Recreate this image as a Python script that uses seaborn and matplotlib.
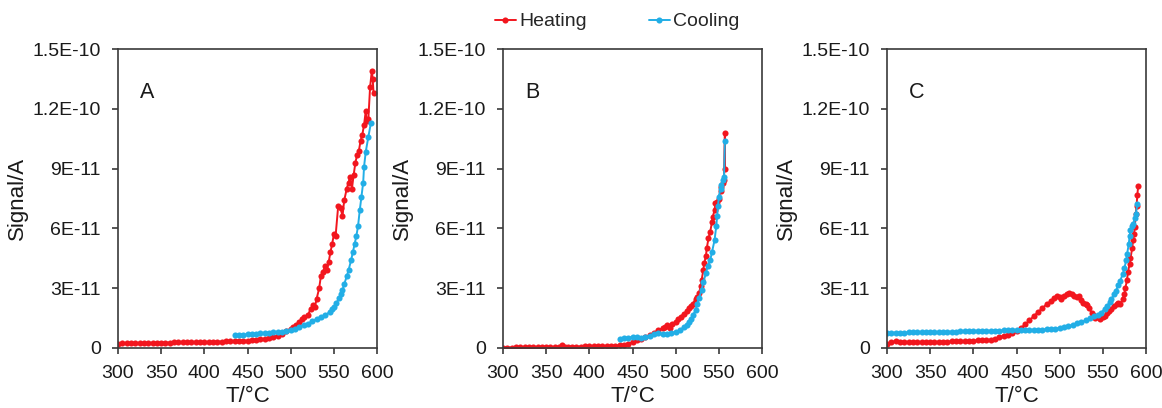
import numpy as np
import pandas as pd
import matplotlib
matplotlib.use("Agg")
import matplotlib.pyplot as plt
import seaborn as sns

# ---------------- data (signal in units of 1E-11 A) ----------------
heat_A_T = [300, 305, 310, 315, 320, 325, 330, 335, 340, 345, 350, 355, 360, 365, 370, 375, 380, 385, 390, 395,
            400, 405, 410, 415, 420, 425, 430, 435, 440, 445, 450, 455, 460, 465, 470, 475, 480, 485, 490, 495,
            500, 503, 506, 510, 513, 516, 520, 523, 526, 528, 530, 533, 535, 537, 540, 542, 544, 546, 548, 550,
            552, 555, 558, 560, 562, 565, 567, 569, 571, 573, 575, 577, 579, 581, 583, 585, 587, 588, 590, 592,
            594, 595, 596]
heat_A_S = [0.22, 0.23, 0.23, 0.24, 0.24, 0.25, 0.25, 0.25, 0.26, 0.26, 0.27, 0.27, 0.27, 0.28, 0.28, 0.28, 0.29, 0.29, 0.30, 0.30,
            0.30, 0.31, 0.31, 0.32, 0.32, 0.33, 0.33, 0.34, 0.35, 0.36, 0.37, 0.38, 0.40, 0.43, 0.46, 0.50, 0.55, 0.62, 0.72, 0.85,
            0.97, 1.05, 1.15, 1.30, 1.45, 1.55, 1.65, 1.95, 2.15, 2.05, 2.45, 3.00, 3.60, 3.80, 4.10, 3.90, 4.30, 4.80, 5.20, 5.70,
            5.60, 7.10, 7.00, 6.60, 7.40, 8.00, 8.30, 8.60, 8.00, 8.70, 9.30, 9.70, 9.90, 10.4, 10.7, 11.2, 11.9, 11.4, 11.5, 13.1,
            13.9, 13.5, 12.8]
cool_A_T = [435, 440, 445, 450, 455, 460, 465, 470, 475, 480, 485, 490, 495, 500, 505, 510, 515, 520, 525, 530,
            535, 540, 545, 548, 550, 553, 556, 558, 560, 562, 565, 567, 570, 572, 574, 576, 578, 580, 582, 584,
            585, 587, 590, 593]
cool_A_S = [0.64, 0.66, 0.67, 0.68, 0.70, 0.71, 0.73, 0.75, 0.77, 0.78, 0.80, 0.82, 0.86, 0.90, 0.97, 1.06, 1.14, 1.22, 1.33, 1.47,
            1.56, 1.64, 1.80, 1.95, 2.06, 2.25, 2.50, 2.70, 2.90, 3.20, 3.60, 3.90, 4.40, 4.80, 5.20, 5.60, 6.10, 6.90, 7.60, 8.30,
            9.10, 9.85, 10.6, 11.3]

heat_B_T = [300, 305, 310, 315, 320, 325, 330, 335, 340, 345, 350, 355, 360, 365, 368, 372, 375, 380, 385, 390,
            395, 400, 405, 410, 415, 420, 425, 430, 435, 440, 445, 450, 455, 460, 465, 470, 475, 480, 485, 488,
            490, 493, 496, 500, 503, 506, 510, 513, 516, 518, 520, 523, 525, 527, 529, 530, 532, 533, 535, 536,
            538, 540, 542, 543, 545, 546, 548, 550, 552, 553, 555, 556, 557, 557]
heat_B_S = [0.02, 0.02, 0.02, 0.03, 0.03, 0.03, 0.03, 0.04, 0.04, 0.05, 0.05, 0.05, 0.05, 0.06, 0.14, 0.06, 0.06, 0.07, 0.07, 0.07,
            0.08, 0.08, 0.08, 0.09, 0.09, 0.10, 0.11, 0.12, 0.14, 0.17, 0.22, 0.30, 0.38, 0.47, 0.56, 0.64, 0.76, 0.89, 1.00, 1.05,
            1.14, 1.00, 1.20, 1.31, 1.45, 1.58, 1.73, 1.85, 2.00, 2.10, 2.23, 2.45, 2.56, 2.75, 3.10, 3.40, 3.90, 4.24, 4.60, 5.00,
            5.50, 5.83, 6.30, 6.59, 6.90, 7.26, 7.30, 7.50, 7.90, 8.10, 8.30, 8.43, 10.8, 9.00]
cool_B_T = [435, 440, 445, 450, 455, 460, 465, 470, 475, 480, 485, 490, 495, 500, 505, 510, 513, 515, 518, 520,
            523, 525, 527, 530, 532, 535, 537, 540, 542, 545, 547, 548, 549, 550, 552, 553, 555, 556, 557]
cool_B_S = [0.47, 0.50, 0.52, 0.55, 0.55, 0.52, 0.55, 0.60, 0.72, 0.75, 0.72, 0.72, 0.75, 0.80, 0.90, 1.06, 1.15, 1.30, 1.45, 1.64,
            1.90, 2.23, 2.50, 2.90, 3.30, 3.74, 4.10, 4.40, 4.80, 5.40, 6.10, 6.60, 7.10, 7.60, 8.00, 8.20, 8.45, 8.60, 10.4]

heat_C_T = [300, 305, 310, 315, 320, 325, 330, 335, 340, 345, 350, 355, 360, 365, 370, 375, 380, 385, 390, 395,
            400, 405, 410, 415, 420, 425, 430, 435, 440, 445, 450, 455, 460, 465, 470, 475, 480, 485, 490, 494,
            497, 500, 502, 505, 508, 511, 514, 517, 520, 522, 525, 527, 530, 532, 534, 537, 539, 541, 544, 547,
            550, 552, 555, 557, 560, 563, 566, 568, 570, 573, 575, 576, 578, 579, 581, 582, 584, 585, 586, 587,
            588, 589, 590, 591]
heat_C_S = [0.20, 0.30, 0.34, 0.32, 0.32, 0.30, 0.29, 0.28, 0.29, 0.30, 0.30, 0.31, 0.31, 0.32, 0.32, 0.33, 0.33, 0.34, 0.35, 0.35,
            0.37, 0.38, 0.39, 0.40, 0.42, 0.47, 0.54, 0.60, 0.67, 0.75, 0.84, 1.00, 1.18, 1.38, 1.60, 1.80, 2.00, 2.20, 2.35, 2.50,
            2.60, 2.55, 2.45, 2.62, 2.70, 2.77, 2.70, 2.60, 2.55, 2.60, 2.40, 2.27, 2.20, 2.15, 2.00, 1.77, 1.65, 1.50, 1.55, 1.46,
            1.55, 1.60, 1.75, 1.85, 1.95, 2.10, 2.20, 2.27, 2.20, 2.44, 2.70, 3.00, 3.40, 3.80, 4.20, 4.50, 5.00, 5.40, 5.70, 6.05,
            6.70, 7.10, 7.70, 8.15]
cool_C_T = [300, 305, 310, 315, 320, 325, 330, 335, 340, 345, 350, 355, 360, 365, 370, 375, 380, 385, 390, 395,
            400, 405, 410, 415, 420, 425, 430, 435, 440, 445, 450, 455, 460, 465, 470, 475, 480, 485, 490, 495,
            500, 505, 510, 515, 520, 525, 530, 535, 540, 544, 548, 552, 555, 558, 560, 563, 565, 568, 570, 573,
            575, 577, 578, 580, 581, 582, 584, 585, 587, 588, 590]
cool_C_S = [0.76, 0.76, 0.77, 0.77, 0.77, 0.78, 0.78, 0.78, 0.79, 0.79, 0.80, 0.80, 0.80, 0.81, 0.81, 0.82, 0.82, 0.83, 0.83, 0.84,
            0.84, 0.85, 0.85, 0.86, 0.86, 0.87, 0.87, 0.88, 0.88, 0.89, 0.89, 0.90, 0.90, 0.91, 0.91, 0.92, 0.92, 0.93, 0.95, 0.97,
            1.00, 1.04, 1.09, 1.15, 1.23, 1.30, 1.38, 1.48, 1.60, 1.68, 1.77, 1.95, 2.10, 2.30, 2.44, 2.70, 2.86, 3.15, 3.36, 3.70,
            4.00, 4.40, 4.70, 5.20, 5.60, 5.90, 6.10, 6.20, 6.50, 6.70, 7.20]

panel_labels = ["A", "B", "C"]
series_names = ["Heating", "Cooling"]
x_ticks = [300, 350, 400, 450, 500, 550, 600]
y_ticks = [0, 3e-11, 6e-11, 9e-11, 1.2e-10, 1.5e-10]
y_tick_labels = ["0", "3E-11", "6E-11", "9E-11", "1.2E-10", "1.5E-10"]

panels = [
    (heat_A_T, heat_A_S, cool_A_T, cool_A_S),
    (heat_B_T, heat_B_S, cool_B_T, cool_B_S),
    (heat_C_T, heat_C_S, cool_C_T, cool_C_S),
]

# ---------------- style ----------------
sns.set_style("ticks")
plt.rcParams["font.family"] = ["Liberation Sans", "DejaVu Sans"]
colors = {"Heating": "#f2161e", "Cooling": "#22aee6"}
spine_c = "#3a3a3a"

W, H = 1162, 408
fig = plt.figure(figsize=(W / 100, H / 100), dpi=100)
lefts = [118, 503, 887]

handles = None
for i, (ht, hs, ct, cs) in enumerate(panels):
    ax = fig.add_axes([lefts[i] / W, 60 / H, 259 / W, 299 / H])
    for name, T, S in [("Heating", ht, hs), ("Cooling", ct, cs)]:
        df = pd.DataFrame({"T": T, "S": np.array(S) * 1e-11})
        sns.lineplot(data=df, x="T", y="S", color=colors[name], marker="o",
                     markersize=4.4, markeredgewidth=0, linewidth=1.4,
                     estimator=None, sort=False, label=name, ax=ax)
    if handles is None:
        handles, labels = ax.get_legend_handles_labels()
    if ax.get_legend() is not None:
        ax.get_legend().remove()
    ax.set_xlim(300, 600)
    ax.set_ylim(0, 1.5e-10)
    ax.set_xticks(x_ticks)
    ax.set_xticklabels([str(t) for t in x_ticks])
    ax.set_yticks(y_ticks)
    ax.set_yticklabels(y_tick_labels)
    ax.tick_params(direction="out", length=4.3, width=1.2, color=spine_c,
                   labelcolor="#1a1a1a")
    ax.tick_params(axis="x", labelsize=14, pad=8)
    ax.tick_params(axis="y", labelsize=14, pad=8)
    for sp in ax.spines.values():
        sp.set_visible(True)
        sp.set_color(spine_c)
        sp.set_linewidth(1.2)
    ax.set_xlabel("T/°C", fontsize=16, labelpad=3, color="#1a1a1a")
    ax.set_ylabel("Signal/A", fontsize=16, labelpad=3, color="#1a1a1a")
    ax.text(0.085, 0.855, panel_labels[i], transform=ax.transAxes, fontsize=15.5,
            va="center", ha="left", color="#1a1a1a")

fig.legend(handles, labels, loc="center", bbox_to_anchor=(0.531, 0.947), ncol=2,
           frameon=False, fontsize=14, handlelength=1.1, handletextpad=0.15,
           columnspacing=3.2)

fig.savefig("out.png", dpi=100, facecolor="white")
